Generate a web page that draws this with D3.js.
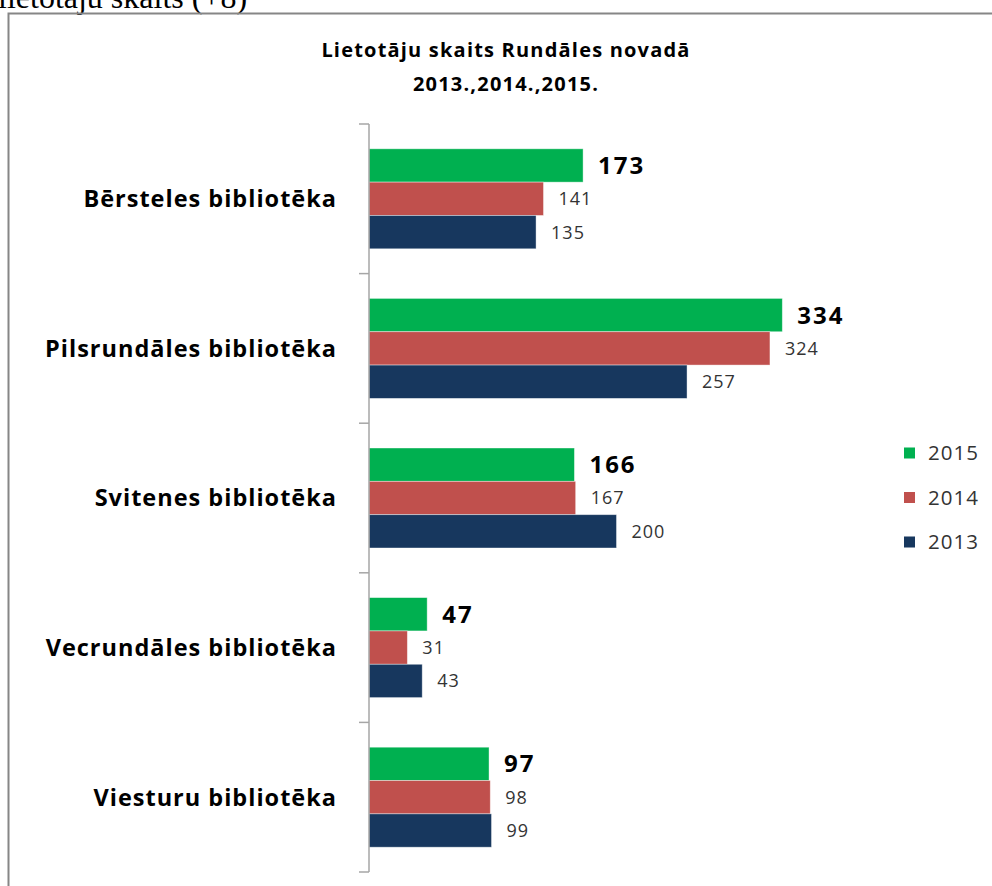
<!DOCTYPE html>
<html>
<head>
<meta charset="utf-8">
<script src="https://cdnjs.cloudflare.com/ajax/libs/d3/7.8.5/d3.min.js"></script>
<style>
  body { margin: 0; background: #fff; }
  svg text { font-family: 'Open Sans', Lato, sans-serif; }
</style>
</head>
<body>
<div id="chart"></div>
<script>
'use strict';

// chart data
var LIBRARIES = ['Bērsteles bibliotēka', 'Pilsrundāles bibliotēka', 'Svitenes bibliotēka',
  'Vecrundāles bibliotēka', 'Viesturu bibliotēka'];
var YEARS = ['2015', '2014', '2013'];
var USERS_2015 = [173, 334, 166, 47, 97];
var USERS_2014 = [141, 324, 167, 31, 98];
var USERS_2013 = [135, 257, 200, 43, 99];

var SERIES = {
  '2015': USERS_2015,
  '2014': USERS_2014,
  '2013': USERS_2013
};
var YEAR_COLOR = {
  '2015': '#00b050',
  '2014': '#c0504d',
  '2013': '#17375e'
};

// displaying constants, in pixels
var WIDTH = 992;
var HEIGHT = 886;
var AXIS_X = 369;
var AXIS_TOP = 124;
var AXIS_BOTTOM = 872;

var svg = d3.select('#chart').append('svg')
  .attr('width', WIDTH)
  .attr('height', HEIGHT);

// heading of the document above the chart, cut by the page edge
svg.append('text')
  .attr('x', -2)
  .attr('y', 8)
  .style('font-family', "'Liberation Serif', 'Times New Roman', serif")
  .style('font-size', '32px')
  .style('fill', '#000')
  .text('lietotāju skaits (+8)');

// chart frame
svg.append('path')
  .attr('d', 'M8.5,' + HEIGHT + ' V13.5 H' + WIDTH)
  .style('fill', 'none')
  .style('stroke', '#868686')
  .style('stroke-width', 2);

// the original chart is a bit stretched sideways, letter-spacing makes up for it
svg.append('text')
  .attr('x', 506)
  .attr('y', 57)
  .attr('text-anchor', 'middle')
  .style('font-size', '20px')
  .style('font-weight', 'bold')
  .style('letter-spacing', '1.2px')
  .text('Lietotāju skaits Rundāles novadā');
svg.append('text')
  .attr('x', 506)
  .attr('y', 91)
  .attr('text-anchor', 'middle')
  .style('font-size', '20px')
  .style('font-weight', 'bold')
  .style('letter-spacing', '1.2px')
  .text('2013.,2014.,2015.');

var x = d3.scaleLinear()
  .domain([0, 400])
  .range([AXIS_X, AXIS_X + 495]);

var y = d3.scaleBand()
  .domain(LIBRARIES)
  .range([AXIS_TOP, AXIS_BOTTOM]);

// bars of one group take 100px in the middle of each band
var yInner = d3.scaleBand()
  .domain(YEARS)
  .range([(y.bandwidth() - 100) / 2, (y.bandwidth() + 100) / 2]);

var groups = svg.selectAll('g.group')
  .data(LIBRARIES)
  .enter()
  .append('g')
  .attr('class', 'group')
  .attr('transform', function(d) { return 'translate(0,' + y(d) + ')'; });

groups.selectAll('rect')
  .data(function(d, i) {
    return YEARS.map(function(year) { return { year: year, value: SERIES[year][i] }; });
  })
  .enter()
  .append('rect')
  .attr('x', AXIS_X)
  .attr('y', function(d) { return yInner(d.year); })
  .attr('width', function(d) { return x(d.value) - AXIS_X; })
  .attr('height', yInner.bandwidth())
  .style('fill', function(d) { return YEAR_COLOR[d.year]; })
  .style('stroke', '#fff')
  .style('stroke-opacity', 0.5)
  .style('stroke-width', 0.8);

groups.selectAll('text.value')
  .data(function(d, i) {
    return YEARS.map(function(year) { return { year: year, value: SERIES[year][i] }; });
  })
  .enter()
  .append('text')
  .attr('class', 'value')
  .attr('x', function(d) { return x(d.value) + 15; })
  .attr('y', function(d) { return yInner(d.year) + yInner.bandwidth() / 2; })
  .attr('dy', '0.36em')
  .style('font-size', function(d) { return d.year === '2015' ? '24px' : '18px'; })
  .style('font-weight', function(d) { return d.year === '2015' ? 'bold' : 'normal'; })
  .style('letter-spacing', function(d) { return d.year === '2015' ? '2px' : '1px'; })
  .style('fill', function(d) { return d.year === '2015' ? '#000' : '#333'; })
  .text(function(d) { return d.value; });

// category axis with ticks between the bands
var axis = svg.append('g')
  .attr('transform', 'translate(' + AXIS_X + ',0)')
  .call(d3.axisLeft(y).tickSize(0).tickFormat(''));
axis.select('.domain')
  .attr('d', 'M0,' + AXIS_TOP + 'V' + AXIS_BOTTOM)
  .style('stroke', '#a6a6a6')
  .style('stroke-width', 1.5);

var boundaries = LIBRARIES.map(function(d) { return y(d); }).concat([AXIS_BOTTOM]);
axis.selectAll('line.boundary')
  .data(boundaries)
  .enter()
  .append('line')
  .attr('class', 'boundary')
  .attr('x1', -10)
  .attr('x2', 0)
  .attr('y1', function(d) { return d; })
  .attr('y2', function(d) { return d; })
  .style('stroke', '#a6a6a6')
  .style('stroke-width', 1.5);

svg.selectAll('text.category')
  .data(LIBRARIES)
  .enter()
  .append('text')
  .attr('class', 'category')
  .attr('x', 337)
  .attr('y', function(d) { return y(d) + y.bandwidth() / 2; })
  .attr('dy', '0.36em')
  .attr('text-anchor', 'end')
  .style('font-size', '23.5px')
  .style('font-weight', 'bold')
  .style('letter-spacing', '1px')
  .style('fill', '#000')
  .text(function(d) { return d; });

// legend
var legend = svg.selectAll('g.legend')
  .data(YEARS)
  .enter()
  .append('g')
  .attr('class', 'legend')
  .attr('transform', function(d, i) { return 'translate(904,' + (453 + i * 44.5) + ')'; });

legend.append('rect')
  .attr('x', 0)
  .attr('y', -5.5)
  .attr('width', 11)
  .attr('height', 11)
  .style('fill', function(d) { return YEAR_COLOR[d]; });

legend.append('text')
  .attr('x', 24)
  .attr('y', 0)
  .attr('dy', '0.36em')
  .style('font-size', '20.5px')
  .style('letter-spacing', '1px')
  .style('fill', '#333')
  .text(function(d) { return d; });
</script>
</body>
</html>
